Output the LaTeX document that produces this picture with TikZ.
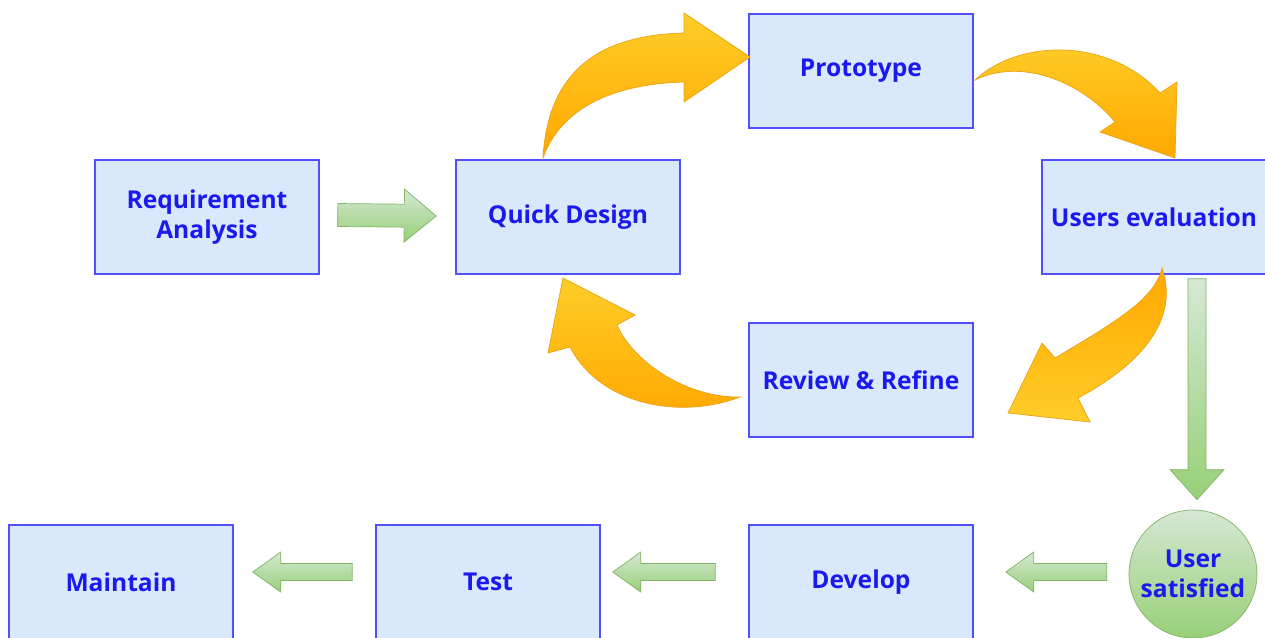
\documentclass[tikz,border=0pt]{standalone}
\usepackage{fontspec}
\setmainfont{Open Sans}
\usetikzlibrary{calc}
\definecolor{boxfill}{HTML}{DAE8FC}
\definecolor{boxline}{HTML}{5050FF}
\definecolor{boxtext}{HTML}{1A1AF0}
\definecolor{greenlight}{HTML}{D5E8D4}
\definecolor{greendark}{HTML}{97D077}
\definecolor{greenline}{HTML}{82B366}
\definecolor{orangelight}{HTML}{FFCD28}
\definecolor{orangedark}{HTML}{FFA800}
\definecolor{orangeline}{HTML}{E8A317}
% fat arrow: tail, tip, shaft half width, head half width, head length
\newcommand{\fatarrow}[5]{%
  \coordinate (hb) at ($(#2)!#5!(#1)$);
  \shade[greenarrow] ($(#1)!#3!90:(#2)$) -- ($(hb)!#3!90:(#2)$) -- ($(hb)!#4!90:(#2)$) -- (#2)
    -- ($(hb)!#4!-90:(#2)$) -- ($(hb)!#3!-90:(#2)$) -- ($(#1)!#3!-90:(#2)$) -- cycle;}

\begin{document}
\begin{tikzpicture}[x=0.02cm, y=-0.02cm,
    phase/.style={draw=boxline, fill=boxfill, line width=0.9pt, minimum width=4.48cm,
      minimum height=2.28cm, text=boxtext, align=center,
      font=\bfseries\fontsize{14}{17}\selectfont},
    satisfied/.style={circle, draw=greenline, top color=greenlight, bottom color=greendark,
      minimum size=2.56cm, inner sep=0pt, text=boxtext, align=center,
      font=\bfseries\fontsize{14}{17}\selectfont},
    greenarrow/.style={draw=greenline, line width=0.4pt, top color=greenlight, bottom color=greendark},
    orangearrow/.style={draw=orangeline, line width=0.4pt, top color=orangelight, bottom color=orangedark}]
    \useasboundingbox (0,0) rectangle (1265,637);
    \clip (0,0) rectangle (1265,637);
    % phases
    \node[phase] (req) at (207,217) {Requirement\\Analysis};
    \node[phase] (qd) at (568,217) {Quick Design};
    \node[phase] (proto) at (861,71) {Prototype};
    \node[phase] (ue) at (1154,217) {Users evaluation};
    \node[phase] (rr) at (861,380) {Review \& Refine};
    \node[satisfied] (us) at (1193,574) {User\\satisfied};
    \node[phase] (dev) at (861,582) {Develop};
    \node[phase] (test) at (488,582) {Test};
    \node[phase] (maint) at (121,582) {Maintain};
    % green arrows
    \coordinate (a1) at ([xshift=0.36cm,yshift=0.04cm]req.east);
    \coordinate (b1) at ([xshift=-0.38cm,yshift=0.02cm]qd.west);
    \fatarrow{a1}{b1}{0.23cm}{0.53cm}{0.64cm}
    \coordinate (a2) at ([xshift=0.08cm,yshift=-0.08cm]us.north |- ue.south);
    \coordinate (b2) at ([xshift=0.08cm,yshift=0.2cm]us.north);
    \fatarrow{a2}{b2}{0.18cm}{0.54cm}{0.6cm}
    \coordinate (a3) at ([xshift=-0.44cm,yshift=0.04cm]us.west);
    \coordinate (b3) at ([xshift=0.64cm,yshift=0.2cm]dev.east);
    \fatarrow{a3}{b3}{0.17cm}{0.4cm}{0.56cm}
    \coordinate (a4) at ([xshift=-0.66cm,yshift=0.2cm]dev.west);
    \coordinate (b4) at ([xshift=0.24cm,yshift=0.2cm]test.east);
    \fatarrow{a4}{b4}{0.17cm}{0.4cm}{0.56cm}
    \coordinate (a5) at ([xshift=-0.46cm,yshift=0.2cm]test.west);
    \coordinate (b5) at ([xshift=0.38cm,yshift=0.2cm]maint.east);
    \fatarrow{a5}{b5}{0.17cm}{0.4cm}{0.56cm}
    % curved orange arrows
    \shade[orangearrow] (543,158) .. controls (548,70) and (600,35) .. (684,33) -- (684,13) -- (750,57)
      -- (684,102) -- (684,82) .. controls (610,84) and (560,110) .. (543,158) -- cycle;
    \shade[orangearrow] (975,80) .. controls (1020,38) and (1110,38) .. (1160,93) -- (1177,82) -- (1175,158)
      -- (1100,132) -- (1115,122) .. controls (1080,80) and (1020,58) .. (975,80) -- cycle;
    \shade[orangearrow, top color=orangedark, bottom color=orangelight] (1162,268) .. controls (1180,320) and (1140,365) .. (1078,398) -- (1090,422) -- (1008,413)
      -- (1042,343) -- (1055,358) .. controls (1110,325) and (1155,300) .. (1162,268) -- cycle;
    \shade[orangearrow] (740,397) .. controls (680,420) and (600,405) .. (570,347) -- (548,353) -- (563,278)
      -- (635,315) -- (617,325) .. controls (635,365) and (690,398) .. (740,397) -- cycle;
\end{tikzpicture}
\end{document}
